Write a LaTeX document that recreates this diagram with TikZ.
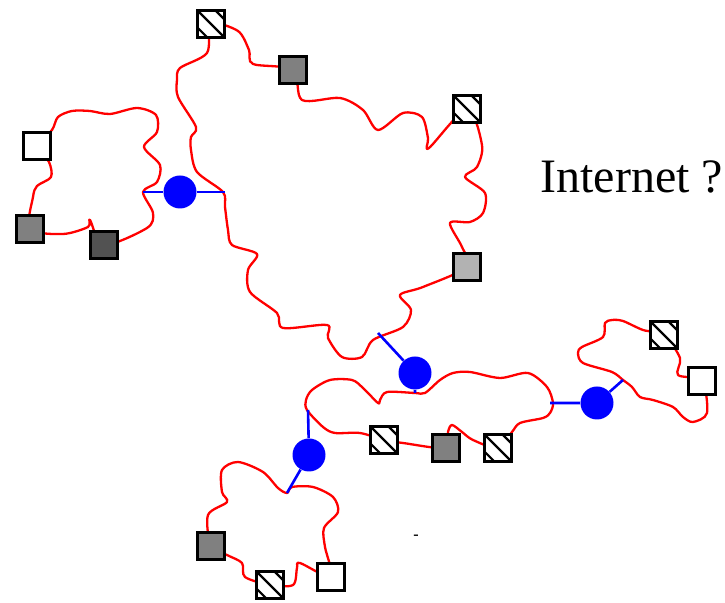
\documentclass[tikz,border=0pt]{standalone}
\usepackage{fontspec}
\setmainfont{Liberation Serif}
\usetikzlibrary{calc}
\definecolor{hostmid}{gray}{0.5}
\definecolor{hostdark}{gray}{0.32}
\definecolor{hostlight}{gray}{0.7}
\tikzset{
  net/.style={red, line width=1.15pt, line join=round},
  link/.style={blue, line width=1.3pt},
  router/.style={circle, fill=blue, minimum size=16.5pt, inner sep=0},
  host/.style={draw, line width=1.4pt, minimum size=13.8pt, inner sep=0},
  hatched/.style={host, fill=white, path picture={
    \draw[line width=1.1pt] (path picture bounding box.north west) -- (path picture bounding box.south east);
    \draw[line width=1.1pt] ([xshift=9pt]path picture bounding box.north west) -- ([yshift=-4.8pt]path picture bounding box.north east);
    \draw[line width=1.1pt] ([yshift=-8.6pt]path picture bounding box.north west) -- ([xshift=5.2pt]path picture bounding box.south west);}},
}
\begin{document}
\begin{tikzpicture}[x=0.5pt, y=-0.5pt]
\useasboundingbox (0,0) rectangle (725,603);

\draw[net] plot[smooth cycle] coordinates {(37,146) (49,162) (51,177) (37,186) (33,197) (30,229) (63,234) (88,227) (90,220) (104,245) (147,228) (153,213) (143,192) (157,182) (160,165) (144,147) (157,132) (156,115) (137,108) (110,114) (90,111) (72,111) (58,117) (52,130)};
\draw[net] plot[smooth cycle] coordinates {(211,24) (238,31) (249,50) (253,64) (293,70) (302,100) (340,98) (363,110) (378,130) (403,113) (422,117) (428,138) (429,148) (467,109) (482,145) (477,167) (465,177) (485,193) (483,213) (470,222) (450,223) (462,247) (467,267) (423,287) (400,295) (411,310) (403,327) (373,340) (362,357) (342,357) (328,338) (327,325) (283,328) (277,313) (250,292) (248,270) (257,254) (232,245) (228,230) (225,207) (223,192) (197,172) (191,150) (191,137) (196,127) (178,97) (177,80) (180,68) (207,53)};
\draw[net] plot[smooth cycle] coordinates {(307,410) (306,400) (312,390) (330,380) (352,380) (363,388) (378,403) (380,400) (387,392) (415,393) (425,393) (440,380) (453,373) (470,372) (500,378) (528,373) (547,387) (553,403) (550,413) (543,418) (520,423) (512,432) (498,448) (473,440) (462,432) (452,425) (448,432) (446,448) (403,443) (384,440) (360,433) (335,433) (323,427)};
\draw[net] plot[smooth cycle] coordinates {(623,380) (612,372) (583,363) (578,353) (582,347) (603,337) (605,323) (612,320) (623,321) (643,330) (664,335) (680,358) (678,375) (702,381) (707,413) (693,422) (683,417) (673,407) (653,400) (640,397) (632,387)};
\draw[net] plot[smooth cycle] coordinates {(287,493) (292,487) (313,487) (333,497) (338,512) (324,528) (325,547) (331,577) (300,563) (297,568) (293,585) (270,585) (245,577) (242,563) (227,555) (211,546) (208,515) (227,502) (222,492) (222,470) (238,462) (263,472) (278,488)};

\coordinate (ja) at (143,192); \coordinate (jb) at (225,192);
\coordinate (jc) at (378,333); \coordinate (jd) at (415,393);
\coordinate (je) at (550,403); \coordinate (jf) at (623,380);
\coordinate (jg) at (308,410); \coordinate (jh) at (287,493);

\node[router] (r1) at (180,192) {};
\node[router] (r2) at (415,373) {};
\node[router] (r3) at (597,403) {};
\node[router] (r4) at (309,455) {};
\draw[link] (ja) -- (r1) -- (jb);
\draw[link] (jc) -- (r2) -- (jd);
\draw[link] (je) -- (r3) -- (jf);
\draw[link] (jg) -- (r4) -- (jh);

\node[host, fill=white] (a1) at (37,146) {};
\node[host, fill=hostmid] (a2) at (30,229) {};
\node[host, fill=hostdark] (a3) at (104,245) {};

\node[hatched] (b1) at (211,24) {};
\node[host, fill=hostmid] (b2) at (293,70) {};
\node[hatched] (b3) at (467,109) {};
\node[host, fill=hostlight] (b4) at (467,267) {};

\node[hatched] (c1) at (384,440) {};
\node[host, fill=hostmid] (c2) at (446,448) {};
\node[hatched] (c3) at (498,448) {};

\node[hatched] (d1) at (664,335) {};
\node[host, fill=white] (d2) at (702,381) {};

\node[host, fill=hostmid] (e1) at (211,546) {};
\node[hatched] (e2) at (270,585) {};
\node[host, fill=white] (e3) at (331,577) {};

\node[anchor=base west, inner sep=0, font=\fontsize{24}{28}\selectfont] (inet) at (540,193) {Internet ?};
\node[inner sep=0, font=\fontsize{8}{9}\selectfont\bfseries] (dash) at (416,537) {-};
\end{tikzpicture}
\end{document}
